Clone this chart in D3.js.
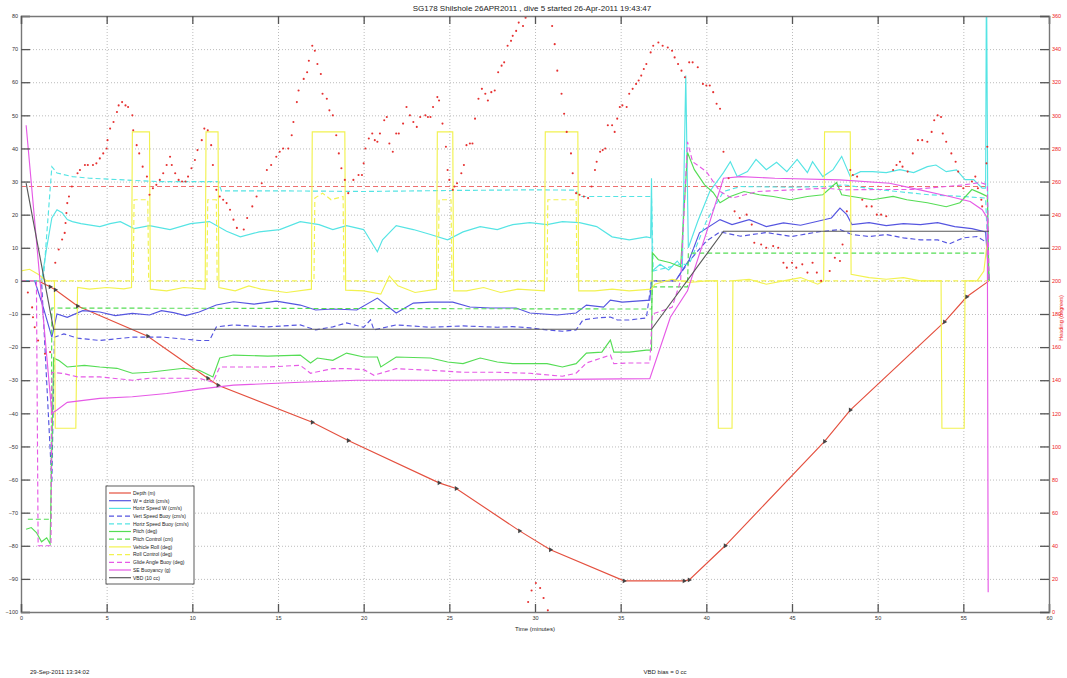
<!DOCTYPE html>
<html>
<head>
<meta charset="utf-8">
<script src="https://cdn.jsdelivr.net/npm/d3@7"></script>
<style>
  body { margin: 0; background: #fff; }
  svg { font-family: "Liberation Sans", Arial, sans-serif; }
  .grid line { stroke: #bcbcbc; stroke-dasharray: 1,2; }
  .grid path { display: none; }
  .ax path { stroke: #777; stroke-width: 1.4; }
  .ax line { stroke: #555; stroke-width: 1.3; }
  .ax text { font-size: 5.5px; fill: #333; }
</style>
</head>
<body>
<svg id="chart" width="1067" height="678"></svg>
<script>
// dive 5 data ([time min, value])
const depth = [[0,0],[1.0,0],[1.7,-1.8],[2.0,-2.7],[3.3,-7.6],[7.4,-16.7],[10.9,-29.4],[11.5,-31.5],[17.0,-42.7],[19.1,-48.2],[24.4,-61],[25.4,-62.7],[29.1,-75.5],[30.9,-81.2],[35.2,-90.6],[38.7,-90.6],[39.0,-90.3],[41.1,-80],[46.9,-48.5],[48.4,-39],[53.9,-12.4],[55.2,-4.8],[56.5,0]];

const wDzdt = [[0,0],[0.8,0],[1.3,-8],[1.8,-17],[2.1,-10],[2.7,-11],[3.6,-9],[4.6,-9.4],[5.5,-10.5],[6.5,-9.8],[7.5,-10.3],[8.2,-9],[8.9,-9.6],[9.6,-10.5],[10.4,-9.4],[11.4,-7.3],[12.4,-6.3],[13.6,-7],[14.9,-6.1],[16.3,-7.3],[17.2,-8.8],[18.2,-8.5],[19.6,-8.8],[20.8,-5.2],[21.9,-9.7],[22.9,-6.7],[23.9,-6.4],[25.2,-6.4],[26.2,-7.9],[27.4,-8.2],[28.9,-8.2],[29.7,-9.7],[31.3,-10.3],[32.4,-9.7],[33,-7.3],[34,-7.9],[34.4,-5.8],[35.1,-6.4],[36.7,-5.8],[36.8,0],[38.2,0],[39,6.4],[39.6,14.5],[40.8,18.5],[41.5,17],[42.5,18.5],[43.5,16.4],[44.5,17.5],[45.5,16.8],[46.5,18],[47.3,19],[47.8,22],[48.2,20],[48.5,17],[49.5,17.6],[50.5,16.7],[51.5,17.3],[52.5,17],[53.5,17.6],[54.5,16.4],[55.5,15.8],[56.3,14.8],[56.5,0]];

const horizSpeedW = [[0,0],[1.2,0],[1.5,10],[1.8,19],[2.1,21.5],[2.4,20.6],[2.7,18.5],[3,17.9],[3.5,17.3],[4.6,16.4],[5.2,17.3],[5.8,17.9],[6.6,15.8],[7.5,16.7],[8.7,15.5],[9.9,17.3],[11.0,17.9],[12.0,15],[12.8,13.3],[13.9,14.8],[15.1,15.5],[16.3,17.9],[17.4,17],[18.2,15.5],[19.0,16.7],[20.0,15.5],[20.8,8.8],[21.1,12.4],[21.9,16.7],[22.9,15.5],[23.9,14],[24.9,12.4],[25.8,14.8],[26.8,16.4],[27.8,15.5],[28.7,17],[29.7,17.6],[30.7,17],[31.6,17.9],[32.6,17.6],[33.6,16.4],[34.5,13.3],[35.5,12.4],[36.5,13.3],[36.75,13],[36.8,31],[36.85,3],[37.3,5],[37.8,3.3],[38.3,6],[38.6,4],[38.8,62],[38.95,10],[39.5,18],[40.2,27],[41.0,32.7],[41.4,36],[41.8,31.5],[42.4,33],[42.9,36.7],[43.5,33.6],[44.1,35.8],[44.7,33],[45.3,36.7],[45.9,32.7],[46.2,36],[46.8,31.5],[47.4,33.6],[47.9,37.6],[48.4,31.5],[49.0,33],[49.7,33],[50.5,32.7],[51.3,33.6],[52.1,32.7],[52.9,34.5],[53.4,35],[54.0,33],[54.6,33.5],[55.1,30.6],[55.6,30.6],[56.1,28],[56.3,28],[56.35,95],[56.45,0]];

const vertSpeedBuoy = [[0,0],[1.2,0],[1.8,-61],[1.95,-17],[2.5,-16],[3.3,-17.3],[4.6,-18],[6.5,-17],[8.3,-17],[10.4,-18],[11.0,-18],[11.4,-13.9],[12.4,-13.3],[14.3,-13.9],[16.3,-13.3],[17.2,-14.8],[18.2,-13.9],[19.0,-12.7],[20.0,-14],[20.4,-11.8],[20.6,-14.8],[21.9,-13.3],[23.9,-14],[25.8,-13.6],[27.8,-14],[28.7,-13.8],[29.7,-14.2],[30.7,-14.8],[31.6,-15.2],[32.4,-14.8],[32.8,-11.8],[33.6,-11.2],[34.4,-10.9],[34.8,-11.8],[35.5,-11.8],[36.5,-11.2],[36.8,0],[38.2,0],[39,6],[40,12],[40.8,14.8],[42,13.5],[43.5,14.6],[45,13.4],[46.5,14.8],[47.8,15.5],[48.5,14],[49.5,13.4],[50.5,14],[51.5,13],[52.5,12.4],[53.5,12.4],[54.2,11.2],[55,13],[55.8,13.4],[56.4,11.5],[56.5,0]];

const horizSpeedBuoy = [[0,0],[1.3,0],[1.8,34.5],[2.1,32.6],[3,31.5],[4,31],[6,30.5],[8,30],[10,30],[11.5,30],[11.7,27.2],[15,27.2],[20,27],[25,27.3],[30,27.5],[32.4,27.4],[32.6,25.5],[36.8,25.5],[36.9,3],[38.5,5],[39,5],[40,18],[41,27],[42,28.5],[45,28.3],[47,28.5],[48,29],[50,27.6],[53,26],[55,25.5],[56.3,25],[56.5,0]];

const pitch = [[0.3,-75],[0.6,-74.5],[0.9,-76],[1.2,-78.8],[1.5,-77.6],[1.7,-79.4],[1.9,-23.3],[2.2,-24],[2.7,-26],[3.7,-25.5],[4.6,-26],[5.6,-26.4],[6.5,-27.9],[7.5,-27.6],[8.5,-27],[9.5,-26.4],[10.4,-27],[11.2,-29],[11.6,-23.3],[12.4,-22.4],[14.4,-22.7],[16.3,-22.4],[16.9,-24.8],[17.3,-23.3],[18.2,-24],[19.0,-21.8],[20.0,-23],[20.8,-23],[21.0,-26],[21.9,-23],[23.9,-23.3],[24.9,-24.5],[25.8,-25],[26.8,-23.3],[27.8,-24.5],[28.7,-25],[29.7,-25],[30.7,-25],[31.6,-26],[32.4,-25],[33.0,-21.8],[33.9,-21.5],[34.4,-17.9],[34.6,-21.5],[35.5,-21.5],[36.5,-20.9],[36.8,-20.9],[36.85,8.5],[37.2,6.4],[37.9,5.5],[38.5,4.2],[38.9,38.8],[39.3,33.6],[39.9,29],[40.4,26.7],[40.8,23.6],[41.4,25.5],[42.2,27],[43.1,26],[43.9,25.5],[44.9,24.5],[45.9,25.5],[46.8,26],[47.6,29.7],[47.9,26],[48.5,25.5],[49.7,24.5],[50.9,25.5],[51.7,24.5],[52.9,23.6],[54.0,22.4],[54.8,23.6],[55.5,27.6],[56.0,26.5],[56.4,25.5],[56.5,0]];

const pitchControl = [[0.4,-72],[1.75,-72],[1.8,-8.2],[36.8,-8.5],[36.85,-1.8],[38.9,-1.8],[38.95,8.4],[56.4,8.4],[56.5,0]];

const vehicleRoll = [[0,3],[0.5,3.5],[1,2],[1.5,0],[1.95,0],[2.0,-44.5],[3.2,-44.5],[3.3,-2],[4,-2.5],[5,-2],[6,-2.4],[6.45,-2],[6.5,45],[7.5,45],[7.55,-2.5],[8.5,-3],[9.5,-2],[10.75,-2.5],[10.8,45],[11.5,45],[11.55,-2],[12.5,-3],[13.3,-1.5],[14,-2.5],[15.5,-3.5],[16.95,-2.5],[17.0,45],[18.9,45],[18.95,-2.8],[20,-3],[21,-4],[21.5,1.5],[22,-1.5],[23,-3.5],[24.25,-2.5],[24.3,45],[25.2,45],[25.25,-3],[26,-3],[27,-2],[28,-3.5],[29,-2.5],[30.55,-3],[30.6,45],[32.5,45],[32.55,-3],[33.5,-3],[34.5,-2.5],[35.5,-3],[36.8,-2.5],[37,-1],[38,0.5],[39,-0.5],[40,0],[40.65,0],[40.7,-44.5],[41.5,-44.5],[41.55,0],[42.5,0.5],[43.5,-1],[44.5,0],[45.5,1],[46.5,-1],[46.85,0],[46.9,45],[48.4,45],[48.45,2],[49.5,1],[50.5,0.5],[51.5,1],[52.5,0],[53.7,0],[53.75,-44.5],[55.05,-44.5],[55.1,0],[55.8,0],[56.2,3],[56.4,12]];

const rollControl = [[0,0],[6.55,0],[6.6,24.5],[7.4,24.5],[7.45,0],[10.85,0],[10.9,24.5],[11.4,24.5],[11.45,0],[17.1,0],[17.15,25],[17.6,26.5],[18.1,24.5],[18.8,25.5],[18.85,0],[24.35,0],[24.4,24.5],[25.1,24.5],[25.15,0],[30.7,0],[30.75,24.5],[32.4,24.5],[32.45,0],[56.5,0]];

const glideAngle = [[0,0],[0.9,0],[1.0,-80],[1.75,-80],[1.8,-27.6],[2.5,-28],[3.3,-29],[4.6,-29],[6.5,-30],[7.5,-29.4],[8.5,-29.4],[10.4,-29.4],[11.2,-30.6],[11.6,-26],[12.4,-26],[14.4,-26],[16.3,-25.5],[16.9,-27.9],[18.2,-26.5],[19.0,-26.5],[20.0,-26.8],[20.6,-28.5],[21.9,-26.5],[23.9,-27],[25.8,-27.6],[27.8,-27.6],[29.7,-27.9],[31.6,-28.8],[32.4,-27.9],[33.0,-24.8],[34.4,-22.4],[34.6,-25],[35.5,-24.8],[36.7,-24.8],[36.85,-10],[38,-8],[38.5,0],[38.9,42],[39.2,36],[40,33],[40.8,27],[41.5,25],[43,27],[45,27.5],[47,28],[48,27.5],[50,27.6],[52,27.6],[54,28.5],[55,29],[56,29.7],[56.4,29],[56.5,0]];

const buoyancy = [[0.3,47],[1.8,-40],[2.1,-39],[2.7,-36.7],[4.6,-35.5],[6.5,-35],[8.5,-34],[10.4,-32.7],[12.4,-31.5],[16.3,-30.6],[19.6,-30],[25,-30],[30,-29.8],[36.7,-29.5],[37.9,-11],[38.9,-3],[40,14.5],[41,31],[42,31.5],[44,31],[47.8,30.5],[50.7,29.5],[52,28],[54.2,25.5],[55.4,24],[56.1,21.5],[56.4,19],[56.45,-94]];

const vbd = [[0.3,29.5],[1.9,-14.6],[36.8,-14.6],[41,15],[56.5,15]];

// heading (right axis, degrees)
const heading = [[0.4,193],[0.65,184],[0.7,178],[0.8,172],[1.0,164],[1.4,156],[1.7,157],[2.0,211],[2.2,219],[2.4,225],[2.55,229],[2.6,235],[2.65,241],[2.7,247],[2.8,251],[2.97,257],[3.3,265],[3.44,267],[3.73,270],[3.9,270],[4.2,270],[4.4,271],[4.6,274],[4.8,277],[5.0,280],[5.05,285],[5.2,292],[5.4,296],[5.6,302],[5.7,306],[5.9,308],[6.1,306],[6.25,305],[6.5,300],[6.55,291],[6.75,282],[6.9,277],[7.1,269],[7.35,263],[7.5,252],[7.7,256],[7.9,258],[8.1,261],[8.3,265],[8.5,270],[8.7,275],[8.8,270],[9.0,265],[9.2,261],[9.4,260],[9.6,260],[9.75,263],[9.95,268],[10.15,273],[10.3,279],[10.55,285],[10.7,292],[10.9,291],[11.1,282],[11.2,270],[11.4,255],[11.6,251],[11.8,249],[12.0,247],[12.2,243],[12.4,237],[12.6,232],[13.0,231],[13.2,238],[13.5,245],[13.75,251],[14.05,259],[14.35,267],[14.6,270],[14.9,275],[15.1,278],[15.3,280],[15.6,280],[15.8,288],[15.9,296],[16.1,308],[16.2,315],[16.5,322],[16.7,326],[16.8,333],[17.0,342],[17.15,339],[17.3,331],[17.5,325],[17.6,313],[17.85,310],[18.0,303],[18.2,300],[18.4,288],[18.55,277],[18.7,268],[18.9,261],[19.1,253],[19.4,261],[19.7,264],[19.9,264],[20.0,271],[20.1,280],[20.3,286],[20.5,289],[20.65,285],[20.8,284],[20.95,289],[21.2,297],[21.35,299],[21.5,283],[21.7,278],[21.9,289],[22.05,289],[22.3,295],[22.5,305],[22.7,300],[22.9,296],[23.1,293],[23.3,299],[23.6,300],[23.75,299],[23.9,299],[24.05,305],[24.3,311],[24.4,309],[24.6,295],[24.8,281],[24.9,267],[25.0,261],[25.2,255],[25.3,257],[25.45,259],[25.7,265],[25.85,270],[26.0,282],[26.2,283],[26.35,283],[26.5,298],[26.7,310],[26.9,316],[27.1,313],[27.25,309],[27.45,314],[27.65,315],[27.85,326],[28.05,330],[28.2,332],[28.4,342],[28.6,345],[28.7,348],[28.9,351],[29.05,356],[29.3,354],[29.45,359],[29.6,6],[29.8,13],[30.05,17.5],[30.3,14.5],[30.5,8.5],[30.75,1],[31.0,354],[31.15,343],[31.3,327],[31.55,313],[31.7,301],[31.85,290],[32.1,277],[32.2,265],[32.4,253],[32.6,252],[32.85,251],[33.1,250],[33.3,257],[33.5,267],[33.6,272],[33.8,278],[33.95,279],[34.1,280],[34.25,294],[34.5,294],[34.65,290],[34.8,298],[34.95,305],[35.1,306],[35.35,305],[35.5,313],[35.7,316],[35.9,319],[36.05,321],[36.2,324],[36.35,328],[36.5,331],[36.75,338],[36.9,342],[37.2,344],[37.45,342],[37.75,341],[38.0,339],[38.15,335],[38.35,331],[38.55,327],[38.75,323],[39.0,332],[39.2,332],[39.5,329],[39.8,319],[40.0,318],[40.2,318],[40.4,314],[40.6,307],[40.8,304],[41.0,278],[41.3,262],[41.65,242],[41.95,238],[42.35,240],[42.65,234],[42.8,223],[43.2,222],[43.5,220],[43.9,221],[44.2,220],[44.5,211],[44.7,208],[45.0,211],[45.25,208],[45.6,210],[45.9,205],[46.2,211],[46.45,205],[46.7,200],[47.2,206],[47.5,214],[47.8,212],[47.95,222],[48.2,242],[48.4,267],[48.55,264],[48.8,263],[49.1,249],[49.35,245],[49.65,245],[49.95,240],[50.2,240],[50.5,239],[50.9,267],[51.1,270],[51.3,272],[51.45,269],[51.75,266],[52.05,277],[52.35,285],[52.6,285],[52.9,284],[53.15,290],[53.3,297],[53.5,300],[53.7,299],[53.8,289],[54.0,284],[54.3,277],[54.55,272],[54.7,266],[55.0,256],[55.5,260],[55.7,263],[55.85,256],[56.05,249],[56.1,245],[56.35,271],[56.4,281]];
const headingTarget = 257;

const leftTicks = d3.range(-100, 81, 10);
const rightTicks = d3.range(0, 361, 20);
const timeTicks = d3.range(0, 61, 5);

const series = [
  { name: "Depth (m)", data: depth, color: "#e4503f", dash: null },
  { name: "W = dz/dt (cm/s)", data: wDzdt, color: "#5555e0", dash: null },
  { name: "Horiz Speed W (cm/s)", data: horizSpeedW, color: "#55e4e4", dash: null },
  { name: "Vert Speed Buoy (cm/s)", data: vertSpeedBuoy, color: "#5555e0", dash: "5,3" },
  { name: "Horiz Speed Buoy (cm/s)", data: horizSpeedBuoy, color: "#55e4e4", dash: "5,3" },
  { name: "Pitch (deg)", data: pitch, color: "#55dd55", dash: null },
  { name: "Pitch Control (cm)", data: pitchControl, color: "#55dd55", dash: "5,3" },
  { name: "Vehicle Roll (deg)", data: vehicleRoll, color: "#f2f250", dash: null },
  { name: "Roll Control (deg)", data: rollControl, color: "#f2f250", dash: "5,3" },
  { name: "Glide Angle Buoy (deg)", data: glideAngle, color: "#e65ae6", dash: "5,3" },
  { name: "SE Buoyancy (g)", data: buoyancy, color: "#e65ae6", dash: null },
  { name: "VBD (10 cc)", data: vbd, color: "#5a5a5a", dash: null }
];

const svg = d3.select("#chart");
const L = 21, R = 1049, T = 16, B = 612;

const x = d3.scaleLinear().domain([0, 60]).range([L, R]);
const y = d3.scaleLinear().domain([-100, 80]).range([B, T]);
const yH = d3.scaleLinear().domain([0, 360]).range([B, T]);

// grid
svg.append("g").attr("class", "grid").attr("transform", `translate(${L},0)`)
  .call(d3.axisLeft(y).tickValues(leftTicks).tickSize(-(R - L)).tickFormat(""));
svg.append("g").attr("class", "grid").attr("transform", `translate(0,${B})`)
  .call(d3.axisBottom(x).tickValues(timeTicks).tickSize(-(B - T)).tickFormat(""));

svg.append("defs").append("clipPath").attr("id", "clip")
  .append("rect").attr("x", L).attr("y", T).attr("width", R - L).attr("height", B - T);

const plot = svg.append("g").attr("clip-path", "url(#clip)");

// target heading
plot.append("line")
  .attr("x1", x(0)).attr("x2", x(56.5))
  .attr("y1", yH(headingTarget)).attr("y2", yH(headingTarget))
  .attr("stroke", "#ee7070").attr("stroke-width", 1.1).attr("stroke-dasharray", "5,3");

const line = d3.line().x(d => x(d[0])).y(d => y(d[1]));

series.forEach(s => {
  plot.append("path").datum(s.data)
    .attr("d", line)
    .attr("fill", "none")
    .attr("stroke", s.color)
    .attr("stroke-width", 1.15)
    .attr("stroke-dasharray", s.dash);
});

// depth markers
plot.selectAll(".dmark").data(depth.slice(2, -1)).join("path")
  .attr("class", "dmark")
  .attr("d", d3.symbol(d3.symbolTriangle).size(10))
  .attr("transform", d => `translate(${x(d[0])},${y(d[1])}) rotate(90)`)
  .attr("fill", "#444");

// heading dots
plot.selectAll(".hd").data(heading).join("circle")
  .attr("class", "hd")
  .attr("cx", d => x(d[0])).attr("cy", d => yH(d[1]))
  .attr("r", 1.05).attr("fill", "#e63030");

// axes
svg.append("g").attr("class", "ax").attr("transform", `translate(${L},0)`)
  .call(d3.axisLeft(y).tickValues(leftTicks).tickSize(-9).tickPadding(3));
svg.append("g").attr("class", "ax").attr("transform", `translate(0,${B})`)
  .call(d3.axisBottom(x).tickValues(timeTicks).tickSize(-8).tickPadding(4));
svg.append("g").attr("class", "ax").attr("transform", `translate(0,${T})`)
  .call(d3.axisTop(x).tickValues(timeTicks).tickSize(-8).tickFormat(""));
const rAx = svg.append("g").attr("class", "ax").attr("transform", `translate(${R},0)`)
  .call(d3.axisRight(yH).tickValues(rightTicks).tickSize(-9).tickPadding(3));
rAx.selectAll("text").style("fill", "#e22");

// texts
svg.append("text").attr("x", 532).attr("y", 11).attr("text-anchor", "middle")
  .attr("font-size", 8).attr("fill", "#222")
  .text("SG178 Shilshole 26APR2011 , dive 5 started 26-Apr-2011 19:43:47");
svg.append("text").attr("x", 535).attr("y", 631).attr("text-anchor", "middle")
  .attr("font-size", 6).attr("fill", "#222").text("Time (minutes)");
svg.append("text").attr("transform", "translate(1063,318) rotate(-90)")
  .attr("text-anchor", "middle").attr("font-size", 5.5).attr("fill", "#e22")
  .text("Heading (degrees)");
svg.append("text").attr("x", 30).attr("y", 674).attr("font-size", 6).attr("fill", "#222")
  .text("29-Sep-2011 13:34:02");
svg.append("text").attr("x", 665).attr("y", 674).attr("text-anchor", "middle")
  .attr("font-size", 6).attr("fill", "#222").text("VBD bias = 0 cc");

// legend
const lg = svg.append("g").attr("transform", "translate(106,486)");
lg.append("rect").attr("width", 88).attr("height", 98)
  .attr("fill", "#fff").attr("stroke", "#333").attr("stroke-width", 0.8);
series.forEach((s, i) => {
  const yy = 7 + i * 7.7;
  lg.append("line").attr("x1", 3).attr("x2", 25).attr("y1", yy).attr("y2", yy)
    .attr("stroke", s.color).attr("stroke-width", 1.2).attr("stroke-dasharray", s.dash);
  lg.append("text").attr("x", 27).attr("y", yy + 1.8).attr("font-size", 5)
    .attr("fill", "#222").text(s.name);
});
</script>
</body>
</html>
